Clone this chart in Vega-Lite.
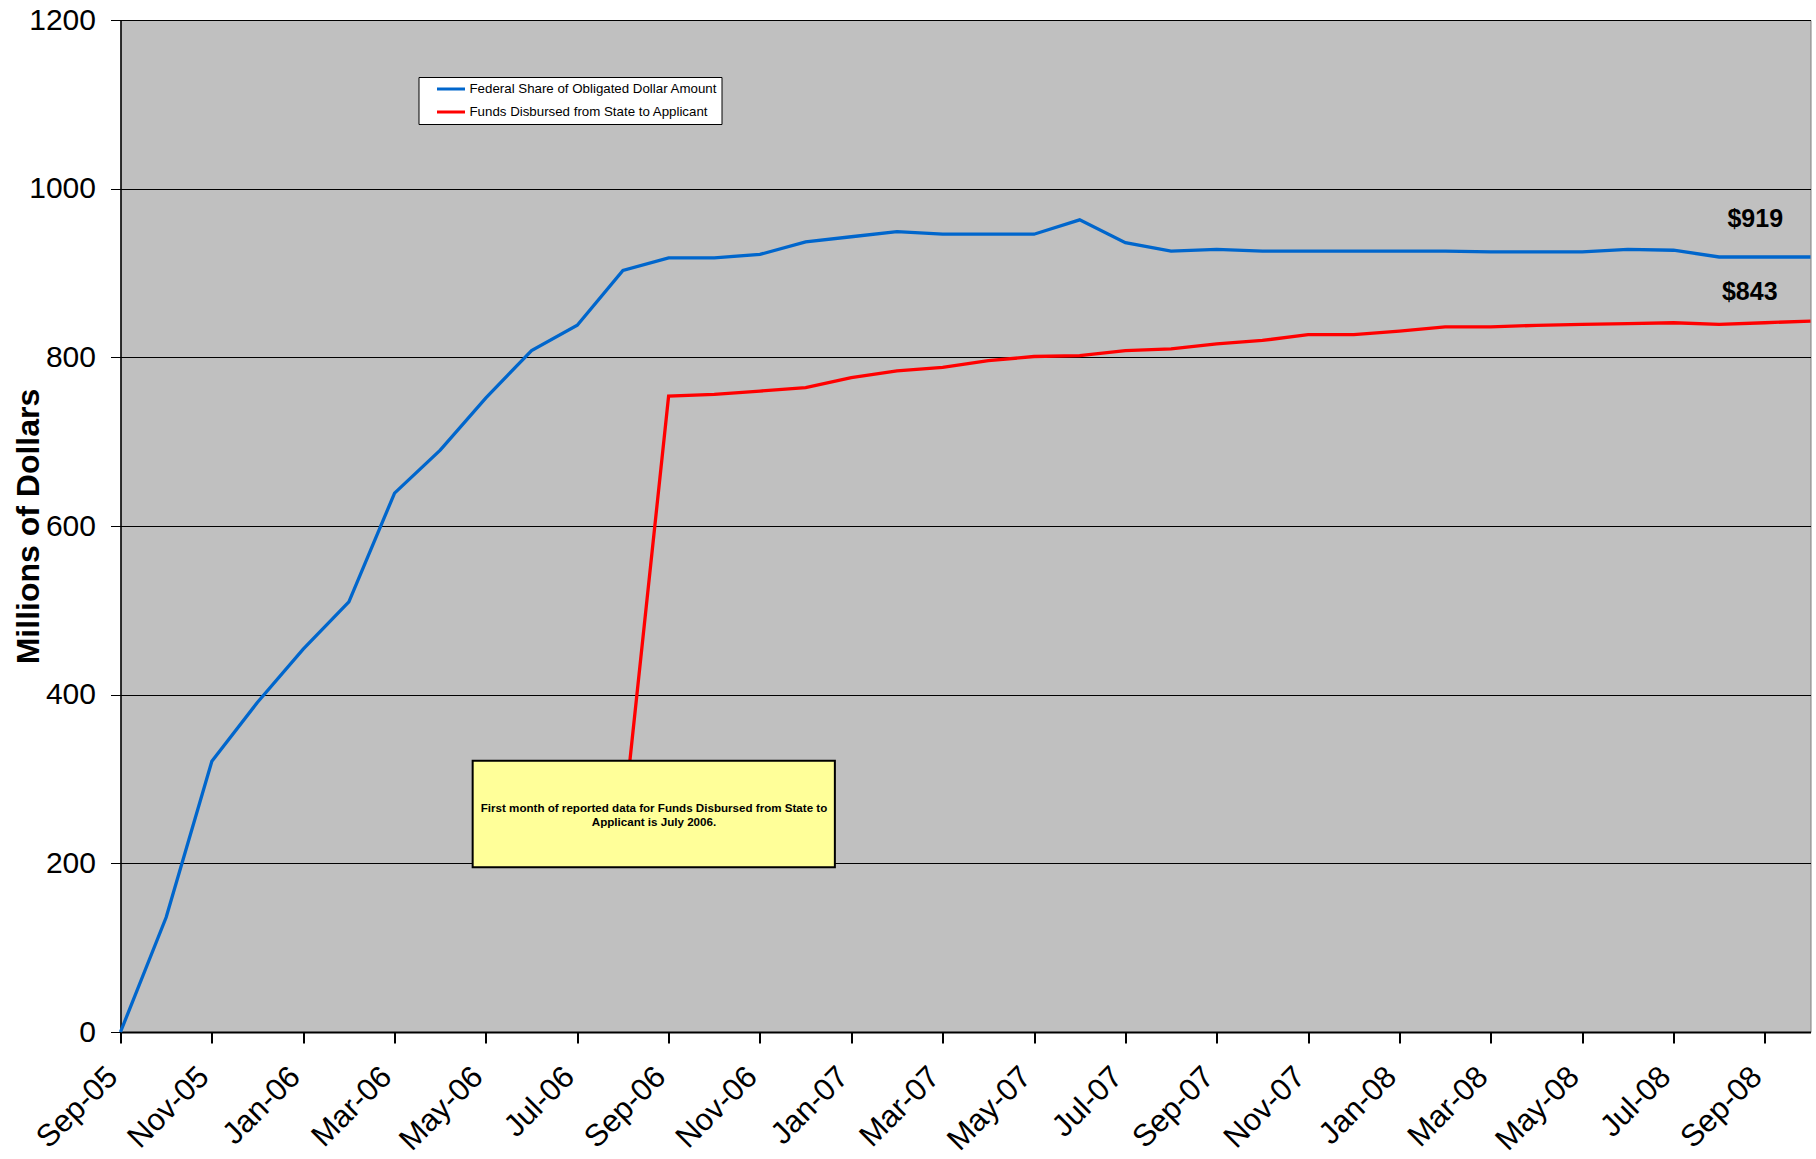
{
  "$schema": "https://vega.github.io/schema/vega-lite/v6.json",
  "width": 1690,
  "height": 1012,
  "autosize": {"type": "none"},
  "padding": {"left": 120.5, "top": 20, "right": 5.5, "bottom": 127},
  "background": "white",
  "config": {
    "font": "Liberation Sans",
    "view": {"fill": "#C0C0C0", "stroke": "#808080", "strokeWidth": 1}
  },
  "datasets": {
    "series": [
      {"month": "Sep-05", "i": 0, "series": "Federal Share of Obligated Dollar Amount", "value": 0},
      {"month": "Oct-05", "i": 1, "series": "Federal Share of Obligated Dollar Amount", "value": 136},
      {"month": "Nov-05", "i": 2, "series": "Federal Share of Obligated Dollar Amount", "value": 321},
      {"month": "Dec-05", "i": 3, "series": "Federal Share of Obligated Dollar Amount", "value": 391},
      {"month": "Jan-06", "i": 4, "series": "Federal Share of Obligated Dollar Amount", "value": 454},
      {"month": "Feb-06", "i": 5, "series": "Federal Share of Obligated Dollar Amount", "value": 510},
      {"month": "Mar-06", "i": 6, "series": "Federal Share of Obligated Dollar Amount", "value": 639},
      {"month": "Apr-06", "i": 7, "series": "Federal Share of Obligated Dollar Amount", "value": 690},
      {"month": "May-06", "i": 8, "series": "Federal Share of Obligated Dollar Amount", "value": 752},
      {"month": "Jun-06", "i": 9, "series": "Federal Share of Obligated Dollar Amount", "value": 808},
      {"month": "Jul-06", "i": 10, "series": "Federal Share of Obligated Dollar Amount", "value": 838},
      {"month": "Aug-06", "i": 11, "series": "Federal Share of Obligated Dollar Amount", "value": 903},
      {"month": "Sep-06", "i": 12, "series": "Federal Share of Obligated Dollar Amount", "value": 918},
      {"month": "Oct-06", "i": 13, "series": "Federal Share of Obligated Dollar Amount", "value": 918},
      {"month": "Nov-06", "i": 14, "series": "Federal Share of Obligated Dollar Amount", "value": 922},
      {"month": "Dec-06", "i": 15, "series": "Federal Share of Obligated Dollar Amount", "value": 937},
      {"month": "Jan-07", "i": 16, "series": "Federal Share of Obligated Dollar Amount", "value": 943},
      {"month": "Feb-07", "i": 17, "series": "Federal Share of Obligated Dollar Amount", "value": 949},
      {"month": "Mar-07", "i": 18, "series": "Federal Share of Obligated Dollar Amount", "value": 946},
      {"month": "Apr-07", "i": 19, "series": "Federal Share of Obligated Dollar Amount", "value": 946},
      {"month": "May-07", "i": 20, "series": "Federal Share of Obligated Dollar Amount", "value": 946},
      {"month": "Jun-07", "i": 21, "series": "Federal Share of Obligated Dollar Amount", "value": 963},
      {"month": "Jul-07", "i": 22, "series": "Federal Share of Obligated Dollar Amount", "value": 936},
      {"month": "Aug-07", "i": 23, "series": "Federal Share of Obligated Dollar Amount", "value": 926},
      {"month": "Sep-07", "i": 24, "series": "Federal Share of Obligated Dollar Amount", "value": 928},
      {"month": "Oct-07", "i": 25, "series": "Federal Share of Obligated Dollar Amount", "value": 926},
      {"month": "Nov-07", "i": 26, "series": "Federal Share of Obligated Dollar Amount", "value": 926},
      {"month": "Dec-07", "i": 27, "series": "Federal Share of Obligated Dollar Amount", "value": 926},
      {"month": "Jan-08", "i": 28, "series": "Federal Share of Obligated Dollar Amount", "value": 926},
      {"month": "Feb-08", "i": 29, "series": "Federal Share of Obligated Dollar Amount", "value": 926},
      {"month": "Mar-08", "i": 30, "series": "Federal Share of Obligated Dollar Amount", "value": 925},
      {"month": "Apr-08", "i": 31, "series": "Federal Share of Obligated Dollar Amount", "value": 925},
      {"month": "May-08", "i": 32, "series": "Federal Share of Obligated Dollar Amount", "value": 925},
      {"month": "Jun-08", "i": 33, "series": "Federal Share of Obligated Dollar Amount", "value": 928},
      {"month": "Jul-08", "i": 34, "series": "Federal Share of Obligated Dollar Amount", "value": 927},
      {"month": "Aug-08", "i": 35, "series": "Federal Share of Obligated Dollar Amount", "value": 919},
      {"month": "Sep-08", "i": 36, "series": "Federal Share of Obligated Dollar Amount", "value": 919},
      {"month": "Oct-08", "i": 37, "series": "Federal Share of Obligated Dollar Amount", "value": 919},
      {"month": "Jul-06", "i": 10, "series": "Funds Disbursed from State to Applicant", "value": 235},
      {"month": "Aug-06", "i": 11, "series": "Funds Disbursed from State to Applicant", "value": 244},
      {"month": "Sep-06", "i": 12, "series": "Funds Disbursed from State to Applicant", "value": 754},
      {"month": "Oct-06", "i": 13, "series": "Funds Disbursed from State to Applicant", "value": 756},
      {"month": "Nov-06", "i": 14, "series": "Funds Disbursed from State to Applicant", "value": 760},
      {"month": "Dec-06", "i": 15, "series": "Funds Disbursed from State to Applicant", "value": 764},
      {"month": "Jan-07", "i": 16, "series": "Funds Disbursed from State to Applicant", "value": 776},
      {"month": "Feb-07", "i": 17, "series": "Funds Disbursed from State to Applicant", "value": 784},
      {"month": "Mar-07", "i": 18, "series": "Funds Disbursed from State to Applicant", "value": 788},
      {"month": "Apr-07", "i": 19, "series": "Funds Disbursed from State to Applicant", "value": 796},
      {"month": "May-07", "i": 20, "series": "Funds Disbursed from State to Applicant", "value": 801},
      {"month": "Jun-07", "i": 21, "series": "Funds Disbursed from State to Applicant", "value": 802},
      {"month": "Jul-07", "i": 22, "series": "Funds Disbursed from State to Applicant", "value": 808},
      {"month": "Aug-07", "i": 23, "series": "Funds Disbursed from State to Applicant", "value": 810},
      {"month": "Sep-07", "i": 24, "series": "Funds Disbursed from State to Applicant", "value": 816},
      {"month": "Oct-07", "i": 25, "series": "Funds Disbursed from State to Applicant", "value": 820},
      {"month": "Nov-07", "i": 26, "series": "Funds Disbursed from State to Applicant", "value": 827},
      {"month": "Dec-07", "i": 27, "series": "Funds Disbursed from State to Applicant", "value": 827},
      {"month": "Jan-08", "i": 28, "series": "Funds Disbursed from State to Applicant", "value": 831},
      {"month": "Feb-08", "i": 29, "series": "Funds Disbursed from State to Applicant", "value": 836},
      {"month": "Mar-08", "i": 30, "series": "Funds Disbursed from State to Applicant", "value": 836},
      {"month": "Apr-08", "i": 31, "series": "Funds Disbursed from State to Applicant", "value": 838},
      {"month": "May-08", "i": 32, "series": "Funds Disbursed from State to Applicant", "value": 839},
      {"month": "Jun-08", "i": 33, "series": "Funds Disbursed from State to Applicant", "value": 840},
      {"month": "Jul-08", "i": 34, "series": "Funds Disbursed from State to Applicant", "value": 841},
      {"month": "Aug-08", "i": 35, "series": "Funds Disbursed from State to Applicant", "value": 839},
      {"month": "Sep-08", "i": 36, "series": "Funds Disbursed from State to Applicant", "value": 841},
      {"month": "Oct-08", "i": 37, "series": "Funds Disbursed from State to Applicant", "value": 843}
    ]
  },
  "layer": [
    {
      "data": {"name": "series"},
      "mark": {"type": "line", "strokeWidth": 3.3, "strokeJoin": "miter"},
      "encoding": {
        "x": {
          "field": "i",
          "type": "quantitative",
          "scale": {"domain": [0, 37], "nice": false, "zero": false},
          "axis": {
            "title": null,
            "grid": false,
            "values": [0, 2, 4, 6, 8, 10, 12, 14, 16, 18, 20, 22, 24, 26, 28, 30, 32, 34, 36],
            "labelExpr": "['Sep-05','Nov-05','Jan-06','Mar-06','May-06','Jul-06','Sep-06','Nov-06','Jan-07','Mar-07','May-07','Jul-07','Sep-07','Nov-07','Jan-08','Mar-08','May-08','Jul-08','Sep-08'][round(datum.value/2)]",
            "labelAngle": -45,
            "labelAlign": "right",
            "labelBaseline": "middle",
            "labelFontSize": 31,
            "labelColor": "black",
            "labelPadding": 29,
            "labelOffset": -8,
            "labelOverlap": false,
            "labelFlush": false,
            "labelBound": false,
            "domainColor": "black",
            "domainWidth": 2,
            "tickColor": "black",
            "tickWidth": 2,
            "tickSize": 11
          }
        },
        "y": {
          "field": "value",
          "type": "quantitative",
          "scale": {"domain": [0, 1200], "nice": false},
          "axis": {
            "title": "Millions of Dollars",
            "titleFontSize": 32,
            "titleFontWeight": "bold",
            "titleColor": "black",
            "titleAngle": -90,
            "titleAlign": "center",
            "titleBaseline": "middle",
            "titleX": -92,
            "titleY": 506,
            "values": [0, 200, 400, 600, 800, 1000, 1200],
            "format": "d",
            "labelFontSize": 30,
            "labelColor": "black",
            "labelPadding": 15,
            "labelFlush": false,
            "labelBound": false,
            "grid": true,
            "gridColor": "black",
            "gridWidth": 1,
            "domainColor": "black",
            "domainWidth": 1.5,
            "tickColor": "black",
            "tickWidth": 1,
            "tickSize": 10
          }
        },
        "color": {
          "field": "series",
          "type": "nominal",
          "scale": {
            "domain": ["Federal Share of Obligated Dollar Amount", "Funds Disbursed from State to Applicant"],
            "range": ["#0066CC", "#FF0000"]
          },
          "legend": {
            "title": null,
            "orient": "none",
            "legendX": 298,
            "legendY": 57,
            "fillColor": "white",
            "strokeColor": "black",
            "padding": 4,
            "symbolType": "stroke",
            "symbolSize": 784,
            "symbolStrokeWidth": 3,
            "symbolOffset": 13,
            "labelOffset": 3,
            "labelFontSize": 13.3,
            "labelColor": "black",
            "labelLimit": 400,
            "clipHeight": 16,
            "rowPadding": 7
          }
        }
      }
    },
    {
      "data": {"values": [{"note": "First month of reported data for Funds Disbursed from State to Applicant is July 2006."}]},
      "mark": {"type": "rect", "fill": "#FFFF99", "stroke": "black", "strokeWidth": 2},
      "encoding": {
        "x": {"datum": 7.71, "type": "quantitative"},
        "x2": {"datum": 15.64},
        "y": {"datum": 195.3, "type": "quantitative"},
        "y2": {"datum": 321.6}
      }
    },
    {
      "data": {"values": [{"note": "First month of reported data for Funds Disbursed from State to Applicant is July 2006."}]},
      "mark": {"type": "text", "fontSize": 11.6, "fontWeight": "bold", "color": "black", "align": "center", "baseline": "middle", "lineHeight": 14},
      "encoding": {
        "x": {"datum": 11.68, "type": "quantitative"},
        "y": {"datum": 264, "type": "quantitative"},
        "text": {"value": ["First month of reported data for Funds Disbursed from State to", "Applicant is July 2006."]}
      }
    },
    {
      "data": {"values": [{"label": "$919", "i": 35.79, "value": 954}, {"label": "$843", "i": 35.67, "value": 868}]},
      "mark": {"type": "text", "fontSize": 25, "fontWeight": "bold", "color": "black", "align": "center", "baseline": "alphabetic"},
      "encoding": {
        "x": {"field": "i", "type": "quantitative"},
        "y": {"field": "value", "type": "quantitative"},
        "text": {"field": "label"}
      }
    }
  ]
}
